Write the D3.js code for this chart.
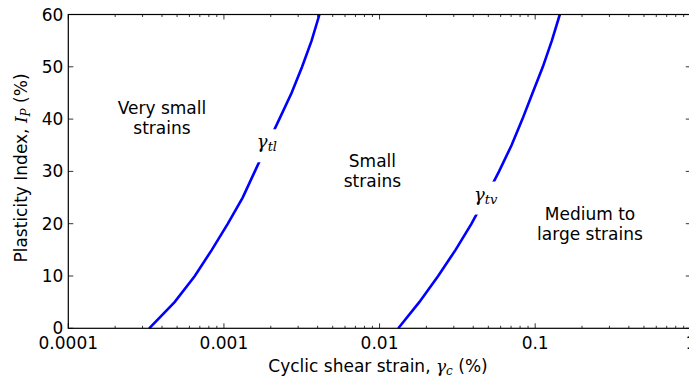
<!DOCTYPE html>
<html><head><meta charset="utf-8">
<script src="https://cdn.jsdelivr.net/npm/d3@7"></script>
<style>body{margin:0;background:#fff;} svg{display:block;font-family:"DejaVu Sans",sans-serif;}</style>
</head><body><svg id="c" width="689" height="381"></svg>
<script>
const ipValues = [0,5,10,15,20,25,30,35,40,45,50,55,60];
const gammaTl = [0.000331,0.000482,0.00065,0.000836,0.00106,0.00132,0.00158,0.00189,0.00227,0.00272,0.00318,0.00366,0.00411];
const gammaTv = [0.0132,0.0180,0.0238,0.0308,0.0390,0.0480,0.0586,0.0705,0.0828,0.0962,0.112,0.128,0.144];
const xTicks = [0.0001,0.001,0.01,0.1,1];
const xTickLabels = ["0.0001","0.001","0.01","0.1","1"];
const yTicks = [0,10,20,30,40,50,60];
const regionLabels = [
  {lines:["Very small","strains"], x:0.0004, y:41.0},
  {lines:["Small","strains"], x:0.009, y:30.9},
  {lines:["Medium to","large strains"], x:0.225, y:20.7}
];

const svg = d3.select("#c");
const L=68.3, R=690.8, T=14.5, B=328.3;
const FS=17;
const x = d3.scaleLog().domain([0.0001,1]).range([L,R]);
const y = d3.scaleLinear().domain([0,60]).range([B,T]);

const minor=[];
for(let e=-4;e<0;e++) for(let k=2;k<=9;k++) minor.push(k*Math.pow(10,e));
const g = svg.append("g");
minor.forEach(v=>{
  g.append("line").attr("x1",x(v)).attr("x2",x(v)).attr("y1",B).attr("y2",B-2.5).attr("stroke","#000").attr("stroke-width",0.8);
  g.append("line").attr("x1",x(v)).attr("x2",x(v)).attr("y1",T).attr("y2",T+2.5).attr("stroke","#000").attr("stroke-width",0.8);
});
xTicks.forEach((v,i)=>{
  g.append("line").attr("x1",x(v)).attr("x2",x(v)).attr("y1",B).attr("y2",B-5).attr("stroke","#000").attr("stroke-width",0.8);
  g.append("line").attr("x1",x(v)).attr("x2",x(v)).attr("y1",T).attr("y2",T+5).attr("stroke","#000").attr("stroke-width",0.8);
  g.append("text").attr("x",x(v)).attr("y",B+21).attr("text-anchor","middle").attr("font-size",FS).text(xTickLabels[i]);
});
yTicks.forEach(v=>{
  g.append("line").attr("x1",L).attr("x2",L+5).attr("y1",y(v)).attr("y2",y(v)).attr("stroke","#000").attr("stroke-width",0.8);
  g.append("line").attr("x1",R).attr("x2",R-5).attr("y1",y(v)).attr("y2",y(v)).attr("stroke","#000").attr("stroke-width",0.8);
  g.append("text").attr("x",L-5).attr("y",y(v)+6).attr("text-anchor","end").attr("font-size",FS).text(v);
});

const line = d3.line().x(d=>x(d[0])).y(d=>y(d[1]));
[gammaTl,gammaTv].forEach(s=>{
  svg.append("path").datum(s.map((v,i)=>[v,ipValues[i]])).attr("d",line)
    .attr("fill","none").attr("stroke","#0000ff").attr("stroke-width",2.6);
});

function inlineLabel(series, idx, sub){
  const cx=x(series[idx]), cy=y(ipValues[idx]);
  svg.append("rect").attr("x",cx-15).attr("y",cy-16).attr("width",30).attr("height",33).attr("fill","#fff");
  const t=svg.append("text").attr("x",cx).attr("y",cy+3).attr("text-anchor","middle")
    .attr("font-family","'DejaVu Serif',serif").attr("font-style","italic").attr("font-size",18);
  t.append("tspan").text("γ");
  t.append("tspan").attr("font-size",13).attr("dy",3).text(sub);
}
inlineLabel(gammaTl,7,"tl");
inlineLabel(gammaTv,5,"tv");

regionLabels.forEach(r=>{
  const t=svg.append("text").attr("text-anchor","middle").attr("font-size",FS);
  r.lines.forEach((ln,i)=>t.append("tspan").attr("x",x(r.x)).attr("y",y(r.y)+i*20).text(ln));
});

svg.append("rect").attr("x",L).attr("y",T).attr("width",R-L).attr("height",B-T).attr("fill","none").attr("stroke","#000").attr("stroke-width",1.2);

const xt=svg.append("text").attr("x",378).attr("y",372).attr("text-anchor","middle").attr("font-size",FS);
xt.append("tspan").text("Cyclic shear strain, ");
xt.append("tspan").attr("font-family","'DejaVu Serif',serif").attr("font-style","italic").text("γ");
xt.append("tspan").attr("font-family","'DejaVu Serif',serif").attr("font-style","italic").attr("font-size",12).attr("dy",3).text("c");
xt.append("tspan").attr("dy",-3).text(" (%)");
const yt=svg.append("text").attr("transform","translate(27,168) rotate(-90)").attr("text-anchor","middle").attr("font-size",FS);
yt.append("tspan").text("Plasticity Index, ");
yt.append("tspan").attr("font-family","'DejaVu Serif',serif").attr("font-style","italic").text("I");
yt.append("tspan").attr("font-family","'DejaVu Serif',serif").attr("font-style","italic").attr("font-size",12).attr("dy",3).text("P");
yt.append("tspan").attr("dy",-3).text(" (%)");
</script></body></html>
